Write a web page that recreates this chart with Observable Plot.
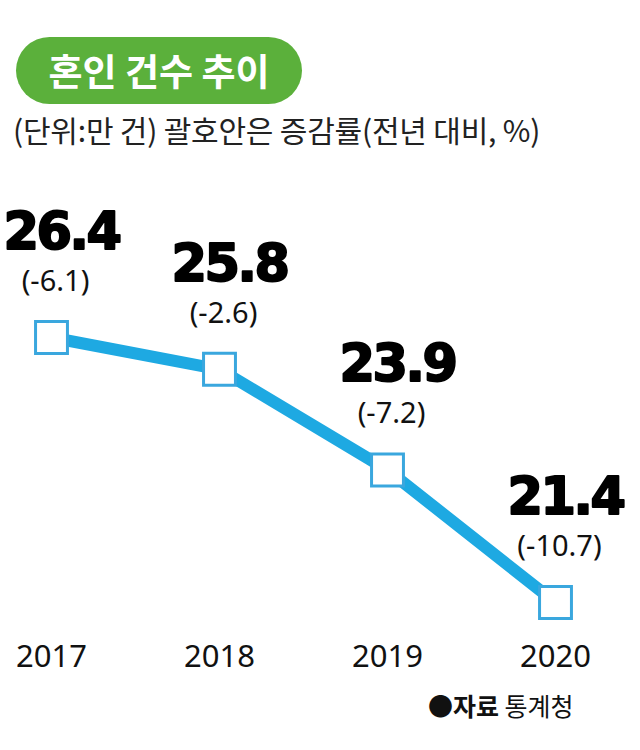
<!DOCTYPE html>
<html><head><meta charset="utf-8">
<script src="https://cdn.jsdelivr.net/npm/d3@7"></script>
<script src="https://cdn.jsdelivr.net/npm/@observablehq/plot@0.6"></script>
<style>
body{margin:0;background:#fff;}
#wrap{position:relative;width:640px;height:750px;overflow:hidden;font-family:"Noto Sans CJK KR",sans-serif;}
#title{position:absolute;left:16px;top:37px;width:286px;height:67px;border-radius:34px;background:#5bb03b;color:#fff;font-weight:700;font-size:37px;line-height:67px;text-align:center;white-space:nowrap;}
#sub{position:absolute;left:13px;top:110px;font-size:30px;line-height:38px;color:#222;white-space:nowrap;letter-spacing:-0.2px;}
#chart{position:absolute;left:0;top:160px;}
#src{position:absolute;left:428px;top:688px;font-size:25px;line-height:34px;color:#111;white-space:nowrap;}
#src b{font-weight:700;}
.val text{letter-spacing:-2.5px;}
</style></head>
<body>
<div id="wrap">
  <div id="title">혼인 건수 추이</div>
  <div id="sub">(단위:만 건) 괄호안은 증감률(전년 대비, %)</div>
  <div id="chart"></div>
  <div id="src"><b>●자료</b> 통계청</div>
</div>
<script>
const years = ["2017", "2018", "2019", "2020"];
const counts = [26.4, 25.8, 23.9, 21.4];
const changes = [-6.1, -2.6, -7.2, -10.7];

const data = years.map((y, i) => ({year: y, count: counts[i], change: changes[i]}));

const blue = "#1ea9e2";
const plot = Plot.plot({
  width: 640,
  height: 530,
  marginTop: 0,
  marginBottom: 50,
  marginLeft: 0,
  marginRight: 0,
  x: {type: "point", domain: years, range: [50, 556], padding: 0, label: null},
  y: {domain: [21.4, 26.4], range: [442, 177], axis: null},
  marks: [
    Plot.axisX({tickSize: 0, tickPadding: 4, fontSize: 31, fill: "#111", label: null,
      fontFamily: "'Noto Sans', sans-serif"}),
    Plot.line(data, {x: "year", y: "count", stroke: blue, strokeWidth: 12}),
    Plot.dot(data, {x: "year", y: "count", symbol: "square", r: 18, fill: "white", stroke: "#3aa7de", strokeWidth: 3}),
    Plot.text(data, {x: "year", y: "count", text: d => d.count.toFixed(1), dy: -105, dx: 10,
      fontSize: 51, fontWeight: 900, fontFamily: "'DejaVu Sans', sans-serif",
      fill: "#000", stroke: "#000", strokeWidth: 2, className: "val"}),
    Plot.text(data, {x: "year", y: "count", text: d => `(${d.change.toFixed(1)})`, dy: -56, dx: 4,
      fontSize: 29, fontFamily: "'Noto Sans', sans-serif", fill: "#111"})
  ]
});
document.getElementById("chart").appendChild(plot);
</script>
</body></html>
